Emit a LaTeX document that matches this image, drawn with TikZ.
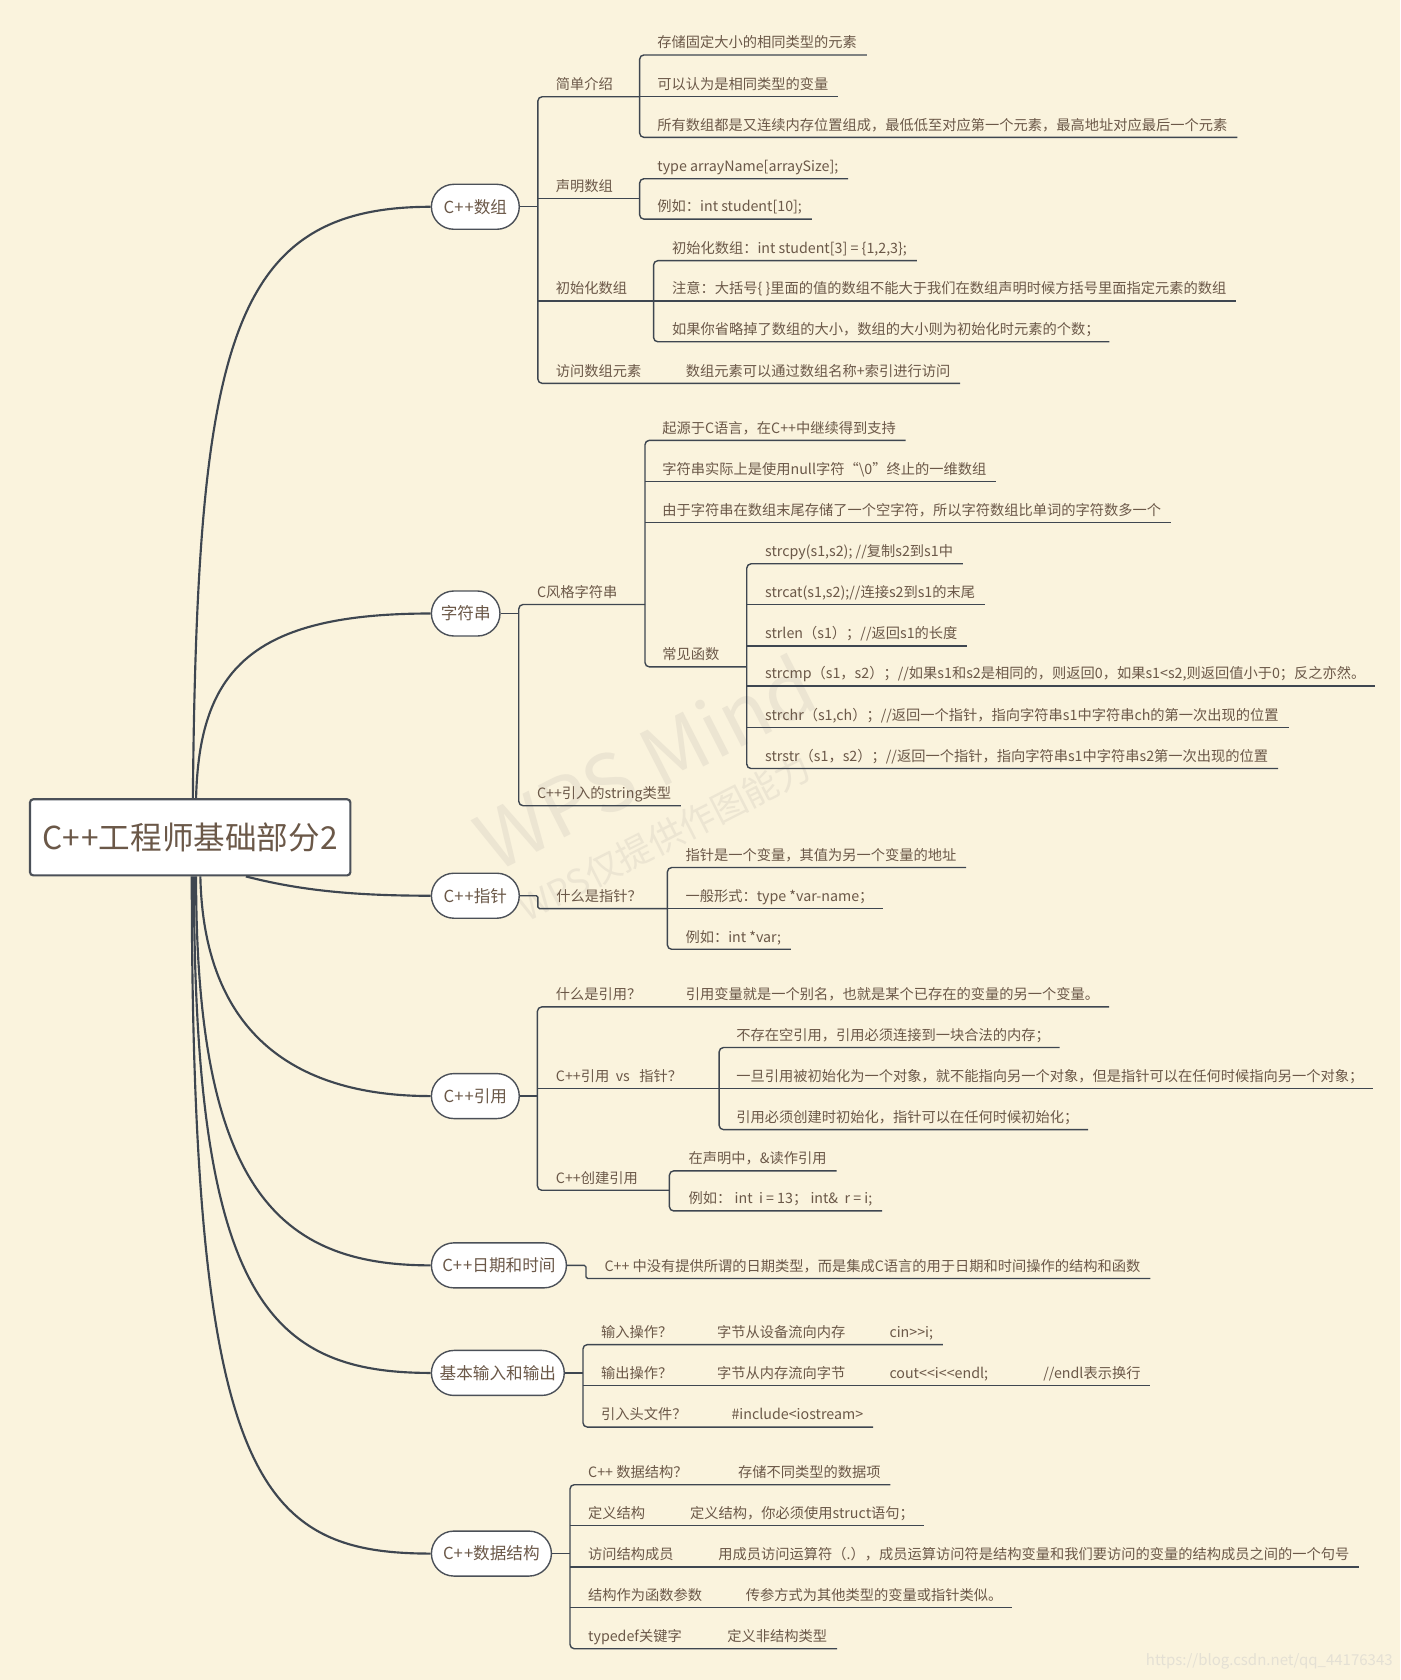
\documentclass[tikz,border=0pt]{standalone}
\usepackage{fontspec}
\setmainfont{Noto Sans CJK SC}
\definecolor{bgc}{RGB}{250,243,221}
\definecolor{linec}{RGB}{62,70,80}
\definecolor{nodec}{RGB}{75,80,88}
\definecolor{txtc}{RGB}{107,88,72}
\definecolor{wmc}{RGB}{236,229,210}
\definecolor{urlc}{RGB}{228,224,212}
\begin{document}
\begin{tikzpicture}[x=1pt,y=-1pt,
  ln/.style={draw=linec, line width=1.3pt},
  bus/.style={draw=linec, line width=1.3pt, rounded corners=4pt},
  cv/.style={draw=linec, line width=2pt},
  lf/.style={anchor=south west, inner xsep=0pt, inner ysep=4.5pt, text height=10pt, text depth=2pt, font=\fontsize{13.3}{15}\selectfont, text=txtc},
  lone/.style={draw=nodec, line width=1.3pt, fill=white, rounded corners=21pt, minimum height=42pt, anchor=west, inner xsep=0pt, font=\fontsize{15.5}{18}\selectfont, text=txtc},
  wm/.style={text=wmc, inner sep=0pt, anchor=base west, rotate=27}
]
\useasboundingbox (0,0) rectangle (1307,1568);
\fill[bgc] (0,0) rectangle (1307,1568);

% watermarks
\node[wm, font=\fontsize{74}{80}\selectfont] (wm1) at (462,815) {WPS Mind};
\node[wm, font=\fontsize{33}{36}\selectfont] (wm2) at (492,861) {WPS仅提供作图能力};
\node[text=urlc, anchor=east, inner sep=0pt, font=\fontsize{14}{16}\selectfont] (url) at (1300,1551) {https://blog.csdn.net/qq\_44176343};

% root
\node[draw=nodec, line width=2pt, fill=white, rounded corners=3pt, minimum width=299pt, minimum height=71pt, inner sep=0pt, font=\fontsize{29.5}{33}\selectfont, text=txtc] (root) at (177.5,781.5) {C+\kern1pt+工程师基础部分2};

% level 1 nodes
\node[lone, minimum width=82pt] (n1) at (402,193) {C+\kern1pt+数组};
\node[lone, minimum width=64pt] (n2) at (402,572.6) {字符串};
\node[lone, minimum width=82pt] (n3) at (402,836) {C+\kern1pt+指针};
\node[lone, minimum width=82pt] (n4) at (402,1023) {C+\kern1pt+引用};
\node[lone, minimum width=126pt] (n5) at (402,1181) {C+\kern1pt+日期和时间};
\node[lone, minimum width=124pt] (n6) at (402,1281.4) {基本输入和输出};
\node[lone, minimum width=112pt] (n7) at (402,1450) {C+\kern1pt+数据结构};

% curves from root
\draw[cv] ([xshift=2.5pt]root.north) .. controls (184,320) and (215,193) .. (n1.west);
\draw[cv] ([xshift=5.5pt]root.north) .. controls (186,625) and (235,572.6) .. (n2.west);
\draw[cv] ([xshift=52pt]root.south) .. controls (280,831) and (330,836) .. (n3.west);
\draw[cv] ([xshift=9.5pt]root.south) .. controls (190,960) and (270,1023) .. (n4.west);
\draw[cv] ([xshift=5.5pt]root.south) .. controls (183,1110) and (260,1181) .. (n5.west);
\draw[cv] ([xshift=3.5pt]root.south) .. controls (181,1210) and (250,1281.4) .. (n6.west);
\draw[cv] ([xshift=1.5pt]root.south) .. controls (179,1380) and (240,1450) .. (n7.west);

%%%%%%%% Section 1: C++数组
\coordinate (m1) at (502,0);
\coordinate (b11) at (597,0);
\coordinate (b12) at (597,0);
\coordinate (b13) at (610,0);
\node[lf] (a1) at (518.7,90.3) {简单介绍};
\node[lf] (a2) at (518.7,185.1) {声明数组};
\node[lf] (a3) at (518.7,281) {初始化数组};
\node[lf] (a4) at (518.7,357.8) {访问数组元素};
\node[lf] (a41) at (640,357.8) {数组元素可以通过数组名称+索引进行访问};
\node[lf] (a11) at (613.4,51.3) {存储固定大小的相同类型的元素};
\node[lf] (a12) at (613.4,90.3) {可以认为是相同类型的变量};
\node[lf] (a13) at (613.4,128.2) {所有数组都是又连续内存位置组成，最低低至对应第一个元素，最高地址对应最后一个元素};
\node[lf] (a21) at (613.4,166.8) {type arrayName[arraySize];};
\node[lf] (a22) at (613.4,204.5) {例如：int student[10];};
\node[lf] (a31) at (627,243.3) {初始化数组：int student[3] = \{1,2,3\};};
\node[lf] (a32) at (627,281) {注意：大括号\{ \}里面的值的数组不能大于我们在数组声明时候方括号里面指定元素的数组};
\node[lf] (a33) at (627,319) {如果你省略掉了数组的大小，数组的大小则为初始化时元素的个数；};

\draw[ln] (n1.east) -- (m1 |- n1.east);
\draw[bus] (b11 |- a1.south) -- (m1 |- a1.south) -- (m1 |- a4.south) -- (a41.south west) -- ([xshift=9pt]a41.south east);
\draw[ln] (m1 |- a2.south) -- (b12 |- a2.south);
\draw[ln] (m1 |- a3.south) -- (b13 |- a3.south);
\draw[bus] ([xshift=9pt]a11.south east) -- (b11 |- a11.south) -- (b11 |- a13.south) -- ([xshift=9pt]a13.south east);
\draw[ln] (b11 |- a12.south) -- ([xshift=9pt]a12.south east);
\draw[bus] ([xshift=9pt]a21.south east) -- (b12 |- a21.south) -- (b12 |- a22.south) -- ([xshift=9pt]a22.south east);
\draw[bus] ([xshift=9pt]a31.south east) -- (b13 |- a31.south) -- (b13 |- a33.south) -- ([xshift=9pt]a33.south east);
\draw[ln] (b13 |- a32.south) -- ([xshift=9pt]a32.south east);

%%%%%%%% Section 2: 字符串
\coordinate (m2) at (484.2,0);
\coordinate (b21) at (602,0);
\coordinate (b22) at (697,0);
\node[lf] (s1) at (501,564.2) {C风格字符串};
\node[lf] (s2) at (501,752) {C++引入的string类型};
\node[lf] (s11) at (618,411) {起源于C语言，在C++中继续得到支持};
\node[lf] (s12) at (618,449.3) {字符串实际上是使用null字符“\textbackslash 0”终止的一维数组};
\node[lf] (s13) at (618,487.6) {由于字符串在数组末尾存储了一个空字符，所以字符数组比单词的字符数多一个};
\node[lf] (s14) at (618,622.4) {常见函数};
\node[lf] (f1) at (714,526.2) {strcpy(s1,s2); //复制s2到s1中};
\node[lf] (f2) at (714,564.2) {strcat(s1,s2);//连接s2到s1的末尾};
\node[lf] (f3) at (714,602.8) {strlen（s1）；//返回s1的长度};
\node[lf] (f4) at (714,640.4) {strcmp（s1，s2）；//如果s1和s2是相同的，则返回0，如果s1<s2,则返回值小于0；反之亦然。};
\node[lf] (f5) at (714,679) {strchr（s1,ch）；//返回一个指针，指向字符串s1中字符串ch的第一次出现的位置};
\node[lf] (f6) at (714,717.3) {strstr（s1，s2）；//返回一个指针，指向字符串s1中字符串s2第一次出现的位置};

\draw[ln] (n2.east) -- (m2 |- n2.east);
\draw[bus] (b21 |- s1.south) -- (m2 |- s1.south) -- (m2 |- s2.south) -- ([xshift=9pt]s2.south east);
\draw[bus] ([xshift=9pt]s11.south east) -- (b21 |- s11.south) -- (b21 |- s14.south) -- (b22 |- s14.south);
\draw[ln] (b21 |- s12.south) -- ([xshift=9pt]s12.south east);
\draw[ln] (b21 |- s13.south) -- ([xshift=9pt]s13.south east);
\draw[bus] ([xshift=9pt]f1.south east) -- (b22 |- f1.south) -- (b22 |- f6.south) -- ([xshift=9pt]f6.south east);
\draw[ln] (b22 |- f2.south) -- ([xshift=9pt]f2.south east);
\draw[ln] (b22 |- f3.south) -- ([xshift=9pt]f3.south east);
\draw[ln] (b22 |- f4.south) -- ([xshift=9pt]f4.south east);
\draw[ln] (b22 |- f5.south) -- ([xshift=9pt]f5.south east);

%%%%%%%% Section 3: C++指针
\coordinate (e3) at (502,0);
\coordinate (b31) at (622.9,0);
\node[lf] (p1) at (519,848) {什么是指针？};
\node[lf] (p11) at (639.6,809.7) {指针是一个变量，其值为另一个变量的地址};
\node[lf] (p12) at (639.6,848) {一般形式：type *var-name；};
\node[lf] (p13) at (639.6,886) {例如：int *var;};
\draw[ln, rounded corners=1.5pt] (n3.east) -- (e3 |- n3.east) -- (e3 |- p1.south) -- (b31 |- p1.south);
\draw[bus] ([xshift=9pt]p11.south east) -- (b31 |- p11.south) -- (b31 |- p13.south) -- ([xshift=9pt]p13.south east);
\draw[ln] (b31 |- p12.south) -- ([xshift=9pt]p12.south east);

%%%%%%%% Section 4: C++引用
\coordinate (m4) at (501.6,0);
\coordinate (b41) at (671.2,0);
\coordinate (b42) at (624.8,0);
\node[lf] (r1) at (518.7,939.8) {什么是引用？};
\node[lf] (r11) at (640,939.8) {引用变量就是一个别名，也就是某个已存在的变量的另一个变量。};
\node[lf] (r2) at (518.7,1016) {C++引用\ \ vs\ \ \ 指针？};
\node[lf] (r21) at (687,977.7) {不存在空引用，引用必须连接到一块合法的内存；};
\node[lf] (r22) at (687,1016) {一旦引用被初始化为一个对象，就不能指向另一个对象，但是指针可以在任何时候指向另一个对象；};
\node[lf] (r23) at (687,1054.3) {引用必须创建时初始化，指针可以在任何时候初始化；};
\node[lf] (r3) at (518.7,1110.9) {C++创建引用};
\node[lf] (r31) at (642.6,1092.8) {在声明中，\&读作引用};
\node[lf] (r32) at (642.6,1130.2) {例如：\ int\ \ i = 13；\ int\&\ \ r = i;};

\draw[ln] (n4.east) -- (m4 |- n4.east);
\draw[bus] ([xshift=9pt]r11.south east) -- (r11.south west) -- (m4 |- r1.south) -- (m4 |- r3.south) -- (b42 |- r3.south);
\draw[ln] (m4 |- r2.south) -- (b41 |- r2.south);
\draw[bus] ([xshift=9pt]r21.south east) -- (b41 |- r21.south) -- (b41 |- r23.south) -- ([xshift=9pt]r23.south east);
\draw[ln] (b41 |- r22.south) -- ([xshift=9pt]r22.south east);
\draw[bus] ([xshift=9pt]r31.south east) -- (b42 |- r31.south) -- (b42 |- r32.south) -- ([xshift=9pt]r32.south east);

%%%%%%%% Section 5: 日期和时间
\coordinate (e5) at (546.9,0);
\node[lf] (t1) at (564,1193.3) {C++ 中没有提供所谓的日期类型，而是集成C语言的用于日期和时间操作的结构和函数};
\draw[ln, rounded corners=1.5pt] (n5.east) -- (e5 |- n5.east) -- (e5 |- t1.south) -- ([xshift=9pt]t1.south east);

%%%%%%%% Section 6: 基本输入和输出
\coordinate (m6) at (544.1,0);
\node[lf] (i1) at (560.9,1255) {输入操作？};
\node[lf] (i12) at (669,1255) {字节从设备流向内存};
\node[lf] (i13) at (830,1255) {cin>\kern0pt>i;};
\node[lf] (i2) at (560.9,1293) {输出操作？};
\node[lf] (i22) at (669,1293) {字节从内存流向字节};
\node[lf] (i23) at (830,1293) {cout<\kern0pt<i<\kern0pt<endl;};
\node[lf] (i24) at (973.6,1293) {//endl表示换行};
\node[lf] (i3) at (560.9,1331.9) {引入头文件？};
\node[lf] (i32) at (682.6,1331.9) {\#include<iostream>};

\draw[ln] (n6.east) -- (m6 |- n6.east);
\draw[bus] ([xshift=9pt]i13.south east) -- (i13.south west) -- (i12.south west) -- (m6 |- i1.south) -- (m6 |- i3.south) -- (i32.south west) -- ([xshift=9pt]i32.south east);
\draw[ln] (m6 |- i2.south) -- (i22.south west) -- (i23.south west) -- (i24.south west) -- ([xshift=9pt]i24.south east);

%%%%%%%% Section 7: C++数据结构
\coordinate (m7) at (532,0);
\node[lf] (d1) at (548.8,1385.7) {C++ 数据结构？};
\node[lf] (d11) at (688.7,1385.7) {存储不同类型的数据项};
\node[lf] (d2) at (548.8,1424) {定义结构};
\node[lf] (d21) at (644,1424) {定义结构，你必须使用struct语句；};
\node[lf] (d3) at (548.8,1462.5) {访问结构成员};
\node[lf] (d31) at (670.3,1462.5) {用成员访问运算符（.），成员运算访问符是结构变量和我们要访问的变量的结构成员之间的一个句号};
\node[lf] (d4) at (548.8,1500.5) {结构作为函数参数};
\node[lf] (d41) at (696,1500.5) {传参方式为其他类型的变量或指针类似。};
\node[lf] (d5) at (548.8,1538.8) {typedef关键字};
\node[lf] (d51) at (678.7,1538.8) {定义非结构类型};

\draw[ln] (n7.east) -- (m7 |- n7.east);
\draw[bus] ([xshift=9pt]d11.south east) -- (d11.south west) -- (m7 |- d1.south) -- (m7 |- d5.south) -- (d51.south west) -- ([xshift=9pt]d51.south east);
\draw[ln] (m7 |- d2.south) -- (d21.south west) -- ([xshift=9pt]d21.south east);
\draw[ln] (m7 |- d3.south) -- (d31.south west) -- ([xshift=9pt]d31.south east);
\draw[ln] (m7 |- d4.south) -- (d41.south west) -- ([xshift=9pt]d41.south east);
\end{tikzpicture}
\end{document}
